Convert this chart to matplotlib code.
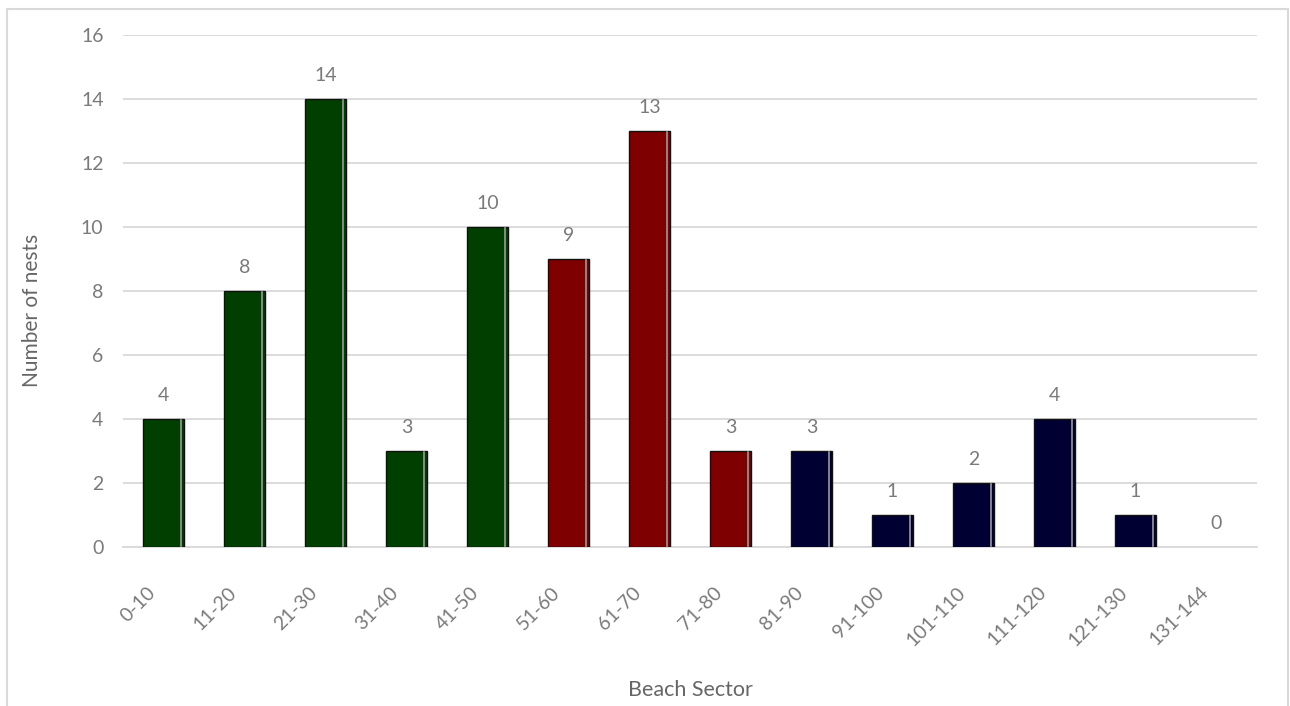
import matplotlib
matplotlib.use("Agg")
import matplotlib.pyplot as plt
from matplotlib.patches import Rectangle
from matplotlib.transforms import ScaledTranslation

# nests counted per beach sector
sectors = ["0-10", "11-20", "21-30", "31-40", "41-50", "51-60", "61-70",
           "71-80", "81-90", "91-100", "101-110", "111-120", "121-130", "131-144"]
nests = [4, 8, 14, 3, 10, 9, 13, 3, 3, 1, 2, 4, 1, 0]
zone = ["g", "g", "g", "g", "g", "r", "r", "r", "b", "b", "b", "b", "b", "b"]
zone_colors = {"g": "#003f00", "r": "#7f0000", "b": "#000033"}

plt.rcParams["font.family"] = ["Lato", "DejaVu Sans"]
txt = "#7a7a7a"

fig = plt.figure(figsize=(12.9, 7.06), dpi=100)
ax = fig.add_axes([0.0953, 0.2252, 0.8791, 0.7252])

# chart frame
fig.patches.append(Rectangle((7 / 1290, -0.05), 1281 / 1290, 1.05 - 9 / 706,
                             transform=fig.transFigure, fill=False,
                             edgecolor="#d9d9d9", lw=1.5))

x = range(len(sectors))
w = 0.5
for i, v in zip(x, nests):
    if v > 0:
        ax.bar(i, v, width=w, color=zone_colors[zone[i]], edgecolor="#111111",
               lw=1.0, zorder=3)
        # light shading strip along the right edge
        ax.plot([i + w / 2 - 0.035] * 2, [0.03, v - 0.03], color="#9a9a9a",
                lw=1.2, zorder=4)
    ax.annotate(str(v), (i, v), xytext=(0, 17), textcoords="offset points",
                ha="center", va="center", fontsize=14, color=txt)

ax.set_xlim(-0.5, len(sectors) - 0.5)
ax.set_ylim(0, 16)
ax.set_yticks(range(0, 17, 2))
ax.yaxis.grid(True, color="#d9d9d9", lw=1.3, zorder=0)
ax.set_axisbelow(True)
for s in ["top", "right", "left"]:
    ax.spines[s].set_visible(False)
ax.spines["bottom"].set_color("#d9d9d9")
ax.spines["bottom"].set_linewidth(1.3)
ax.tick_params(axis="y", length=0, pad=14, labelsize=14, labelcolor=txt)
ax.tick_params(axis="x", length=0, pad=22, labelsize=14, labelcolor=txt)
ax.set_xticks(list(x))
ax.set_xticklabels(sectors, rotation=45, ha="right", va="top",
                   rotation_mode="anchor")
shift = ScaledTranslation(-0.17, -0.06, fig.dpi_scale_trans)
for lab in ax.get_xticklabels():
    lab.set_transform(lab.get_transform() + shift)

fig.text(32 / 1290, 1 - 310 / 706, "Number of nests", rotation=90,
         ha="center", va="center", fontsize=15, color="#666666")
fig.text(690 / 1290, 1 - 690 / 706, "Beach Sector", ha="center", va="center",
         fontsize=15.5, color="#666666")

fig.savefig("out.png", dpi=100)
